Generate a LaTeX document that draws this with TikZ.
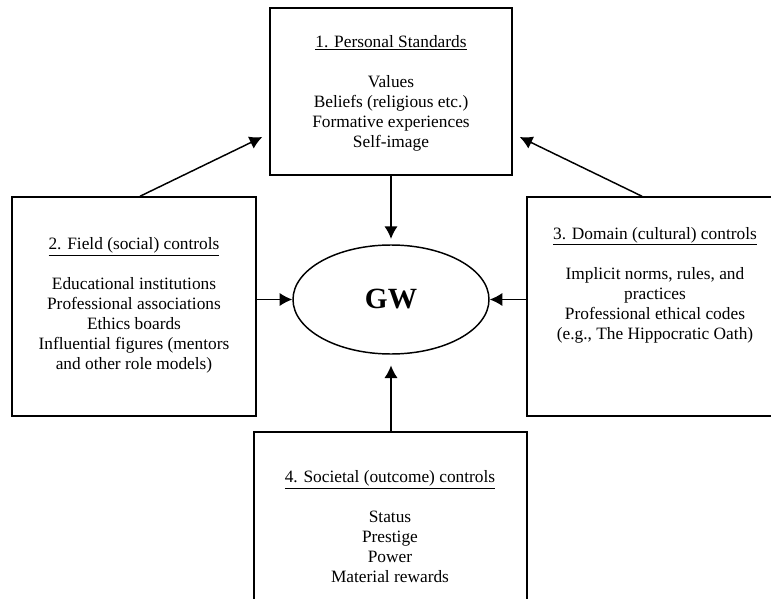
\documentclass[tikz,border=0pt]{standalone}
\usepackage{fontspec}
\setmainfont{Liberation Serif}
\usepackage{tikz}
\usetikzlibrary{calc,shapes,arrows.meta}
\tikzstyle{every picture}=[->,>={Latex[length=9.5pt,width=10pt]}]
\tikzstyle{frame}=[draw,rectangle,line width=1.1pt,inner sep=0pt]
\tikzstyle{txt}=[align=center,font=\fontsize{13}{15}\selectfont]

\begin{document}
\begin{tikzpicture}[x=0.75pt,y=-0.75pt,line width=1.1pt]
    \clip (0,0) rectangle (771,599);
    \fill[white] (0,0) rectangle (771,599);
    % Personal standards
    \node[frame,minimum width=181.5pt,minimum height=125.25pt] (pers) at (391,91.5) {};
    \node[txt] (perstxt) at (391,93) {\underline{1. Personal Standards}\\[15pt]
        Values\\ Beliefs (religious etc.)\\ Formative experiences\\ Self-image};
    % Field controls
    \node[frame,minimum width=183pt,minimum height=164.25pt] (field) at (134,306.5) {};
    \node[txt] (fieldtxt) at (134,305.5) {\underline{2. Field (social) controls}\\[15pt]
        Educational institutions\\ Professional associations\\ Ethics boards\\
        Influential figures (mentors\\ and other role models)};
    % Domain controls
    \node[frame,minimum width=187.5pt,minimum height=164.25pt] (dom) at (652,306.5) {};
    \node[txt] (domtxt) at (655,285) {\underline{3. Domain (cultural) controls}\\[15pt]
        Implicit norms, rules, and\\ practices\\ Professional ethical codes\\
        (e.g., The Hippocratic Oath)};
    % Societal controls
    \node[frame,minimum width=204.75pt,minimum height=156pt] (soc) at (390.5,536) {};
    \node[txt] (soctxt) at (390,526.5) {\underline{4. Societal (outcome) controls}\\[15pt]
        Status\\ Prestige\\ Power\\ Material rewards};
    % GW
    \node[draw,ellipse,line width=1.1pt,inner sep=0pt,minimum width=147pt,minimum height=81.75pt,
        font=\bfseries\fontsize{22}{26}\selectfont] (gw) at (391,299.5) {GW};
    % arrows into GW
    \draw[shorten >=4pt] (pers) -- (gw);
    \draw (field.east |- gw.west) -- (gw.west);
    \draw (dom.west |- gw.east) -- (gw.east);
    \draw[shorten >=8pt] (soc.north -| gw.south) -- (gw.south);
    % arrows up to personal standards
    \draw ([xshift=4.5pt]field.north) -- ($(pers.west)+(-7,45.5)$);
    \draw ([xshift=-7.5pt]dom.north) -- ($(pers.east)+(7,45.5)$);
\end{tikzpicture}
\end{document}
